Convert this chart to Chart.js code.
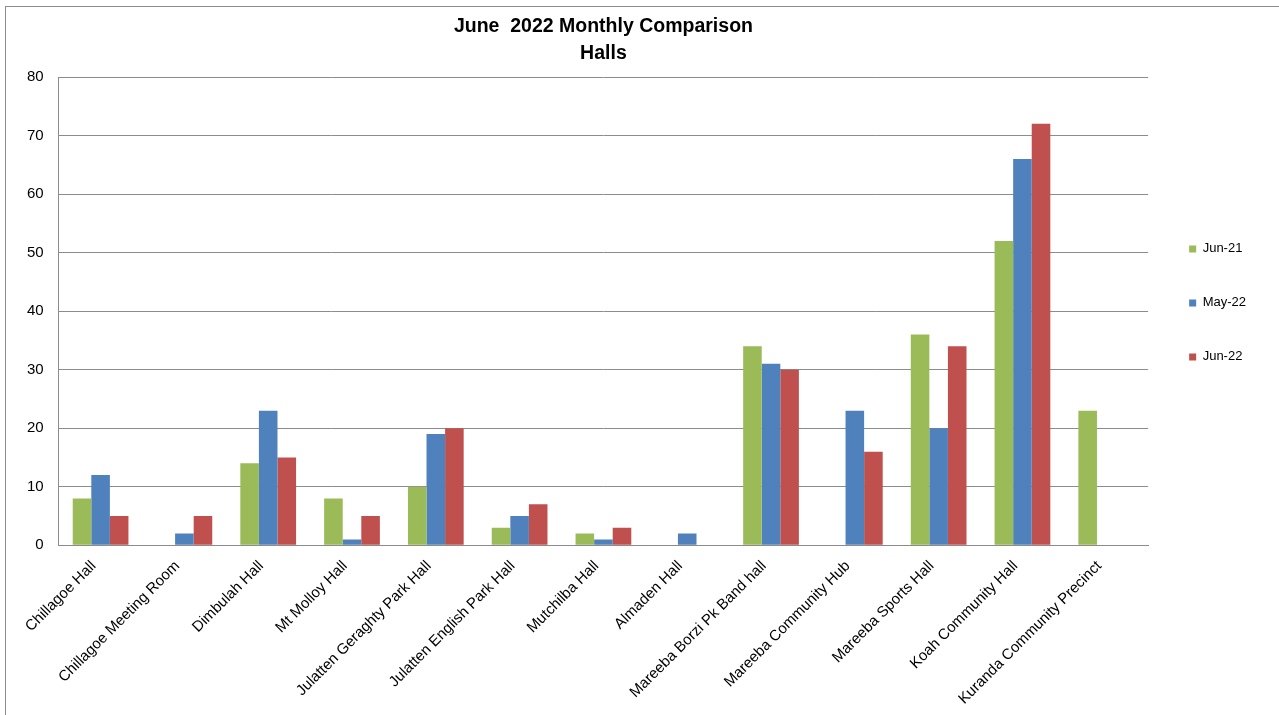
<!DOCTYPE html>
<html>
<head>
<meta charset="utf-8">
<script src="https://cdn.jsdelivr.net/npm/chart.js@4.4.0/dist/chart.umd.min.js"></script>
<style>
  html, body { margin: 0; padding: 0; background: #fff; }
  #wrap { width: 1279px; height: 715px; }
</style>
</head>
<body>
<div id="wrap"><canvas id="chart"></canvas></div>
<script>
/* June 2022 monthly comparison - halls */

const HALLS = [
  "Chillagoe Hall", "Chillagoe Meeting Room", "Dimbulah Hall", "Mt Molloy Hall",
  "Julatten Geraghty Park Hall", "Julatten English Park Hall", "Mutchilba Hall",
  "Almaden Hall", "Mareeba Borzi Pk Band hall", "Mareeba Community Hub",
  "Mareeba Sports Hall", "Koah Community Hall", "Kuranda Community Precinct",
];

const JUN_21 = [8, 0, 14, 8, 10, 3, 2, 0, 34, 0, 36, 52, 23];
const MAY_22 = [12, 2, 23, 1, 19, 5, 1, 2, 31, 23, 20, 66, 0];
const JUN_22 = [5, 5, 15, 5, 20, 7, 3, 0, 30, 16, 34, 72, 0];

const Y_TICKS = [0, 10, 20, 30, 40, 50, 60, 70, 80];

const FONT = "'Liberation Sans', Arial, sans-serif";

// grey frame round the whole chart, like the spreadsheet export
const framePlugin = {
  id: "frame",
  beforeDraw(chart) {
    const ctx = chart.ctx;
    ctx.save();
    ctx.strokeStyle = "#8c8c8c";
    ctx.lineWidth = 1;
    ctx.strokeRect(5.5, 6.5, chart.width + 20, chart.height + 20);
    ctx.restore();
  },
};

const mkSet = (label, data, color) => ({
  label, data,
  backgroundColor: color,
  borderWidth: 0,
  categoryPercentage: 0.665,
  barPercentage: 1.0,
});

new Chart(document.getElementById("chart"), {
  type: "bar",
  data: {
    labels: HALLS,
    datasets: [
      mkSet("Jun-21", JUN_21, "#9bbb59"),
      mkSet("May-22", MAY_22, "#4f81bd"),
      mkSet("Jun-22", JUN_22, "#c0504d"),
    ],
  },
  options: {
    responsive: true,
    maintainAspectRatio: false,
    animation: false,
    layout: { padding: { left: 12, right: 23, top: 0, bottom: -5 } },
    plugins: {
      title: {
        display: true,
        fullSize: false,
        text: ["June  2022 Monthly Comparison", "Halls"],
        color: "#000",
        font: { family: FONT, size: 19.5, weight: "bold", lineHeight: 1.385 },
        padding: { top: 13, bottom: 10 },
      },
      legend: {
        position: "right",
        fullSize: false,
        align: "start",
        // blank legend title used only as a spacer above the items
        title: { display: true, text: " ", padding: 55, font: { size: 12 } },
        labels: {
          color: "#000",
          font: { family: FONT, size: 13 },
          boxWidth: 7,
          boxHeight: 7,
          padding: 41,
        },
      },
      tooltip: { enabled: false },
    },
    scales: {
      x: {
        grid: { display: false, drawTicks: false },
        border: { color: "#8c8c8c" },
        ticks: {
          color: "#000",
          font: { family: FONT, size: 15 },
          maxRotation: 45,
          minRotation: 45,
          padding: 12,
          labelOffset: -7,
          autoSkip: false,
        },
      },
      y: {
        min: 0,
        max: 80,
        afterBuildTicks: (axis) => { axis.ticks = Y_TICKS.map((v) => ({ value: v })); },
        grid: { color: "#8c8c8c", drawTicks: false },
        border: { color: "#8c8c8c" },
        ticks: {
          color: "#000",
          font: { family: FONT, size: 15 },
          padding: 15,
        },
      },
    },
  },
  plugins: [framePlugin],
});
</script>
</body>
</html>
